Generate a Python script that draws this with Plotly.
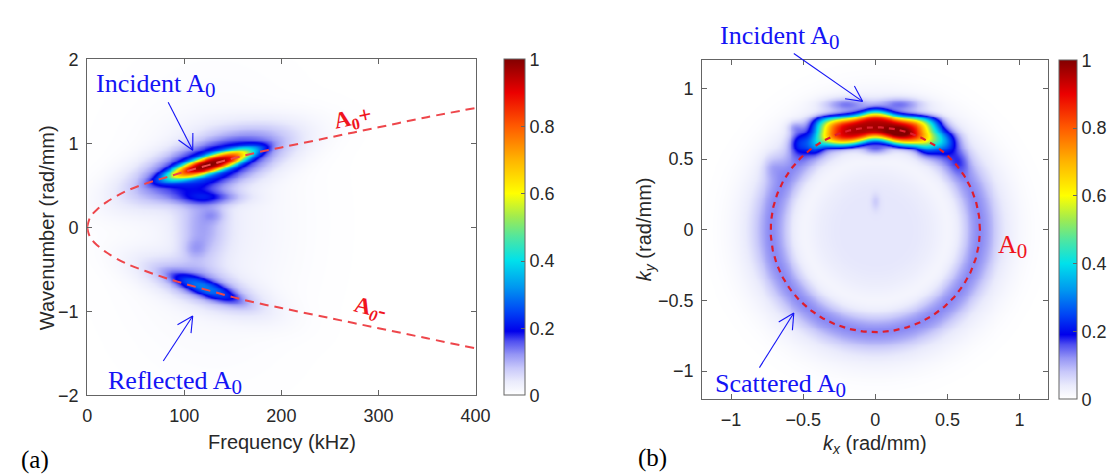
import numpy as np
import plotly.graph_objects as go

W, H = 1120, 476

# ---------------- Panel (a) data ----------------
freq_curve = [0, 2, 5, 10, 20, 40, 60, 80, 100, 125, 150, 175, 200, 250, 300, 350, 400]
k_a0_plus = [0, 0.09, 0.15, 0.21, 0.30, 0.43, 0.52, 0.59, 0.66, 0.74, 0.82, 0.89, 0.95, 1.07, 1.19, 1.31, 1.42]
k_a0_minus = [0, -0.09, -0.15, -0.21, -0.30, -0.43, -0.52, -0.60, -0.67, -0.75, -0.83, -0.90, -0.96, -1.08, -1.20, -1.32, -1.44]

# energy spots in (f, k) plane: centre, widths, shear slope, amplitude, shape exponent
a_f0 = [126, 125, 125, 118, 110, 130, 122, 118, 130, 150]
a_k0 = [0.755, 0.74, 0.36, 0.0, -0.25, 0.15, -0.72, -0.70, 0.05, 1.15]
a_sf = [34, 48, 24, 17, 8, 8, 26, 40, 55, 40]
a_sk = [0.08, 0.19, 0.06, 0.32, 0.08, 0.06, 0.075, 0.15, 0.9, 0.15]
a_slope = [0.0033, 0.0033, 0.0, 0.0, 0.0, 0.0, -0.0040, -0.0037, 0.0, 0.0]
a_amp = [0.70, 0.27, 0.10, 0.08, 0.035, 0.035, 0.15, 0.12, 0.03, 0.02]
a_shape = [3, 2, 2, 2, 2, 2, 2.5, 2, 2, 2]

# ---------------- Panel (b) data ----------------
a0_radius = 0.725
ring_r, ring_s, ring_amp = 0.71, 0.09, 0.10
halo_r, halo_s, halo_amp = 0.82, 0.14, 0.035
inner_r, inner_amp = 0.48, 0.045

# incident band (flat-topped), centre line rising in the middle
inc_kx0, inc_ky0, inc_ax, inc_by, inc_px, inc_py, inc_amp = 0.0, 0.70, 0.40, 0.10, 5, 3.5, 0.84
inc_bump_h, inc_bump_w = 0.04, 0.09

b_kx = [0.17, -0.21, 0.17, -0.53, -0.42, -0.56, 0.47, 0.35, 0.58, 0.0, 0.0, -0.72]
b_ky = [0.69, 0.89, 0.89, 0.62, 0.59, 0.73, 0.63, 0.58, 0.49, 0.575, 0.2, 0.45]
b_sx = [0.08, 0.11, 0.11, 0.05, 0.045, 0.04, 0.07, 0.05, 0.05, 0.07, 0.02, 0.05]
b_sy = [0.03, 0.035, 0.035, 0.06, 0.04, 0.03, 0.06, 0.04, 0.06, 0.03, 0.04, 0.06]
b_amp = [0.10, 0.10, 0.10, 0.13, 0.12, 0.06, 0.19, 0.12, 0.05, 0.10, 0.03, 0.04]

cbar_ticks = [0, 0.2, 0.4, 0.6, 0.8, 1]
cbar_text = ["0", "0.2", "0.4", "0.6", "0.8", "1"]

colorscale = [
    [0.00, "rgb(255,255,255)"], [0.04, "rgb(234,235,252)"], [0.08, "rgb(200,200,250)"],
    [0.12, "rgb(150,150,245)"], [0.16, "rgb(80,80,240)"], [0.19, "rgb(0,0,235)"],
    [0.25, "rgb(0,70,245)"], [0.32, "rgb(0,150,240)"], [0.40, "rgb(0,225,235)"],
    [0.47, "rgb(80,230,160)"], [0.53, "rgb(160,235,80)"], [0.60, "rgb(255,255,0)"],
    [0.70, "rgb(255,180,0)"], [0.80, "rgb(255,90,0)"], [0.90, "rgb(235,0,0)"],
    [1.00, "rgb(130,0,0)"],
]

# ---------------- build fields ----------------
f_grid = np.linspace(0, 400, 401)
k_grid = np.linspace(-2, 2, 401)
F, K = np.meshgrid(f_grid, k_grid)
Za = np.zeros_like(F)
for f0, k0, sf, sk, sl, amp, p in zip(a_f0, a_k0, a_sf, a_sk, a_slope, a_amp, a_shape):
    u = (F - f0) / sf
    v = (K - k0 - sl * (F - f0)) / sk
    Za += amp * np.exp(-0.5 * (u ** 2 + v ** 2) ** (p / 2))
Za = np.clip(Za, 0, 1)

kx_grid = np.linspace(-1.2, 1.2, 361)
ky_grid = np.linspace(-1.2, 1.2, 361)
KX, KY = np.meshgrid(kx_grid, ky_grid)
R = np.sqrt(KX ** 2 + KY ** 2)
Zb = (ring_amp * np.exp(-((R - ring_r) / ring_s) ** 2 / 2)
      + halo_amp * np.exp(-((R - halo_r) / halo_s) ** 2 / 2)
      + inner_amp * np.exp(-(R / inner_r) ** 6))
yc = inc_ky0 + inc_bump_h * np.exp(-0.5 * ((KX - inc_kx0) / inc_bump_w) ** 2)
Zb += inc_amp * np.exp(-np.abs((KX - inc_kx0) / inc_ax) ** inc_px - np.abs((KY - yc) / inc_by) ** inc_py)
for x0, y0, sx, sy, amp in zip(b_kx, b_ky, b_sx, b_sy, b_amp):
    Zb += amp * np.exp(-(((KX - x0) / sx) ** 2 + ((KY - y0) / sy) ** 2) / 2)
Zb = np.clip(Zb, 0, 1)

theta = np.linspace(0, 2 * np.pi, 361)
circ_x = a0_radius * np.cos(theta)
circ_y = a0_radius * np.sin(theta)

# ---------------- figure ----------------
fig = go.Figure()
tickfont = dict(family="Liberation Sans, Arial", size=18, color="rgb(40,40,40)")

def cbar(x0, thick, ybot, ytop):
    return dict(x=x0 / W, xanchor="left", xpad=0, ypad=0,
                y=1 - ybot / H, yanchor="bottom", len=(ybot - ytop) / H, lenmode="fraction",
                thickness=thick, thicknessmode="pixels",
                outlinecolor="rgb(100,100,100)", outlinewidth=1,
                tickvals=cbar_ticks, ticktext=cbar_text, ticks="inside", ticklen=4,
                tickcolor="rgb(100,100,100)", tickfont=tickfont)

fig.add_trace(go.Heatmap(x=f_grid, y=k_grid, z=Za, zmin=0, zmax=1, colorscale=colorscale,
                         zsmooth="best", xaxis="x", yaxis="y",
                         colorbar=cbar(500, 21, 394, 43)))
fig.add_trace(go.Scatter(x=freq_curve, y=k_a0_plus, mode="lines", line_shape="spline",
                         line=dict(color="rgb(238,70,75)", width=2, dash="9px,6px"),
                         xaxis="x", yaxis="y", showlegend=False))
fig.add_trace(go.Scatter(x=freq_curve, y=k_a0_minus, mode="lines", line_shape="spline",
                         line=dict(color="rgb(238,70,75)", width=2, dash="9px,6px"),
                         xaxis="x", yaxis="y", showlegend=False))

fig.add_trace(go.Heatmap(x=kx_grid, y=ky_grid, z=Zb, zmin=0, zmax=1, colorscale=colorscale,
                         zsmooth="best", xaxis="x2", yaxis="y2",
                         colorbar=cbar(1065, 18, 398, 44)))
fig.add_trace(go.Scatter(x=circ_x, y=circ_y, mode="lines",
                         line=dict(color="rgb(222,30,45)", width=2.2, dash="6px,5px"),
                         xaxis="x2", yaxis="y2", showlegend=False))

axcommon = dict(showline=True, linecolor="rgb(100,100,100)", linewidth=1, mirror="ticks",
                ticks="inside", ticklen=5, tickcolor="rgb(100,100,100)", showgrid=False,
                zeroline=False, tickfont=tickfont, ticklabelstandoff=4)

fig.update_layout(
    width=W, height=H, margin=dict(l=0, r=0, t=0, b=0),
    paper_bgcolor="white", plot_bgcolor="white", showlegend=False,
    xaxis=dict(domain=[75.5 / W, 471 / W], range=[0, 400], tickvals=[0, 100, 200, 300, 400],
               anchor="y", **axcommon),
    yaxis=dict(domain=[1 - 394 / H, 1 - 43 / H], range=[-2, 2], tickvals=[-2, -1, 0, 1, 2],
               anchor="x", **axcommon),
    xaxis2=dict(domain=[701.7 / W, 1054.3 / W], range=[-1.2, 1.2], tickvals=[-1, -0.5, 0, 0.5, 1],
                anchor="y2", **axcommon),
    yaxis2=dict(domain=[1 - 398 / H, 1 - 44 / H], range=[-1.2, 1.2], tickvals=[-1, -0.5, 0, 0.5, 1],
                anchor="x2", **axcommon),
)

serif = "Liberation Serif, Times New Roman"
sans = "Liberation Sans, Arial"
BLUE = "rgb(20,20,245)"
RED = "rgb(240,20,30)"
SUB0 = "<sub><span style='font-size:21px'>0</span></sub>"

def ann(x, y, text, size, color, family, angle=0):
    fig.add_annotation(x=x / W, y=1 - y / H, xref="paper", yref="paper", text=text,
                       showarrow=False, xanchor="center", yanchor="middle", textangle=angle,
                       font=dict(family=family, size=size, color=color))

ann(146, 70, "Incident A" + SUB0, 26, BLUE, serif)
ann(165, 380, "Reflected A" + SUB0, 26, BLUE, serif)
ann(346, 105, "<b>A<sub>0</sub>+</b>", 23, RED, serif, -12)
ann(363, 304, "<b>A<sub><i>0</i></sub>-</b>", 23, RED, serif, 14)
ann(781, 20, "Incident A" + SUB0, 26, BLUE, serif)
ann(781, 384, "Scattered A" + SUB0, 26, BLUE, serif)
ann(1018, 238, "A" + SUB0, 26, RED, serif)
ann(22, 461, "(a)", 25, "black", serif)
ann(651, 459, "(b)", 25, "black", serif)

ann(274, 443, "Frequency (kHz)", 20, "rgb(40,40,40)", sans)
ann(34, 219, "Wavenumber (rad/mm)", 20, "rgb(40,40,40)", sans, -90)
ann(878, 445, "<i>k</i><sub><i>x</i></sub> (rad/mm)", 20, "rgb(40,40,40)", sans)
ann(644, 221, "<i>k</i><sub><i>y</i></sub> (rad/mm)", 20, "rgb(40,40,40)", sans, -90)

# arrows with open heads (pixel positions of annotation pointers)
def arrow(tail, head, color=BLUE, wing=18, spread=27):
    tx, ty = tail
    hx, hy = head
    ang = np.arctan2(ty - hy, tx - hx)
    segs = [((tx, ty), (hx, hy))]
    for s in (-1, 1):
        a = ang + s * np.radians(spread)
        segs.append(((hx, hy), (hx + wing * np.cos(a), hy + wing * np.sin(a))))
    for (x0, y0), (x1, y1) in segs:
        fig.add_shape(type="line", xref="paper", yref="paper",
                      x0=x0 / W, y0=1 - y0 / H, x1=x1 / W, y1=1 - y1 / H,
                      line=dict(color=color, width=1.1))

arrow((158, 88), (183, 138))
arrow((153, 358), (183, 311))
arrow((795, 37), (865, 87))
arrow((760, 365), (795, 308))

fig.write_html("out.html")
